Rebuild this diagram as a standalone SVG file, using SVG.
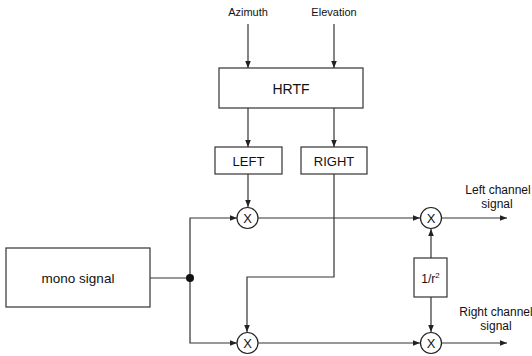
<svg xmlns="http://www.w3.org/2000/svg" width="532" height="356" viewBox="0 0 532 356">
<defs>
<marker id="ah" viewBox="0 0 10 10" refX="10" refY="5" markerWidth="7" markerHeight="7" orient="auto" markerUnits="userSpaceOnUse"><path d="M0,1 L10,5 L0,9 z" fill="#222"/></marker>
</defs>
<style>
.box{fill:#fff;stroke:#333;stroke-width:1.2}
.c{fill:#fff;stroke:#222;stroke-width:1.2}
.t{font-family:"Liberation Sans",Arial,sans-serif;fill:#111;text-anchor:middle}
.ln{fill:none;stroke:#333;stroke-width:1.2}
.ar{fill:none;stroke:#333;stroke-width:1.2;marker-end:url(#ah)}
</style>
<rect width="532" height="356" fill="#fff"/>
<g id="connectors">
<line class="ar" x1="248" y1="24" x2="248" y2="68"/>
<line class="ar" x1="334" y1="24" x2="334" y2="68"/>
<line class="ar" x1="248" y1="108" x2="248" y2="147"/>
<line class="ar" x1="334" y1="108" x2="334" y2="147"/>
<line class="ar" x1="248" y1="174" x2="248" y2="207"/>
<line class="ln" x1="150" y1="278" x2="190" y2="278"/>
<polyline class="ar" points="190,278 190,218 237,218"/>
<polyline class="ar" points="190,278 190,343 237,343"/>
<polyline class="ar" points="334,174 334,277 247,277 247,332"/>
<line class="ar" x1="258" y1="218" x2="420" y2="218"/>
<line class="ar" x1="258" y1="343" x2="420" y2="343"/>
<line class="ar" x1="431" y1="258" x2="431" y2="229"/>
<line class="ar" x1="431" y1="297" x2="431" y2="332"/>
<line class="ar" x1="442" y1="218" x2="507" y2="218"/>
<line class="ar" x1="442" y1="343" x2="507" y2="343"/>
<circle cx="190" cy="278" r="4" fill="#111"/>
</g>
<g id="azimuth"><text class="t" x="248" y="16" font-size="11">Azimuth</text></g>
<g id="elevation"><text class="t" x="334" y="16" font-size="11">Elevation</text></g>
<g id="hrtf"><rect class="box" x="219" y="68" width="144" height="40"/><text class="t" x="291" y="94" font-size="14">HRTF</text></g>
<g id="left"><rect class="box" x="215" y="147" width="67" height="27"/><text class="t" x="248.5" y="165.5" font-size="13">LEFT</text></g>
<g id="right"><rect class="box" x="301" y="147" width="66" height="27"/><text class="t" x="334" y="165.5" font-size="13">RIGHT</text></g>
<g id="mono"><rect class="box" x="6" y="248" width="144" height="59"/><text class="t" x="78" y="283" font-size="13.5">mono signal</text></g>
<g id="mulTL"><circle class="c" cx="247.5" cy="218" r="10.5"/><text class="t" x="247.5" y="223" font-size="13">X</text></g>
<g id="mulBL"><circle class="c" cx="247.5" cy="343" r="10.5"/><text class="t" x="247.5" y="348" font-size="13">X</text></g>
<g id="mulTR"><circle class="c" cx="431" cy="218" r="10.5"/><text class="t" x="431" y="223" font-size="13">X</text></g>
<g id="mulBR"><circle class="c" cx="431" cy="343" r="10.5"/><text class="t" x="431" y="348" font-size="13">X</text></g>
<g id="dist"><rect class="box" x="414" y="258" width="33" height="39"/><text class="t" x="430.5" y="283" font-size="12">1/r<tspan font-size="8" dy="-5">2</tspan></text></g>
<g id="leftout"><text class="t" x="498" y="194" font-size="12">Left channel</text><text class="t" x="497" y="208" font-size="12">signal</text></g>
<g id="rightout"><text class="t" x="496" y="316" font-size="12">Right channel</text><text class="t" x="496" y="330" font-size="12">signal</text></g>
</svg>
